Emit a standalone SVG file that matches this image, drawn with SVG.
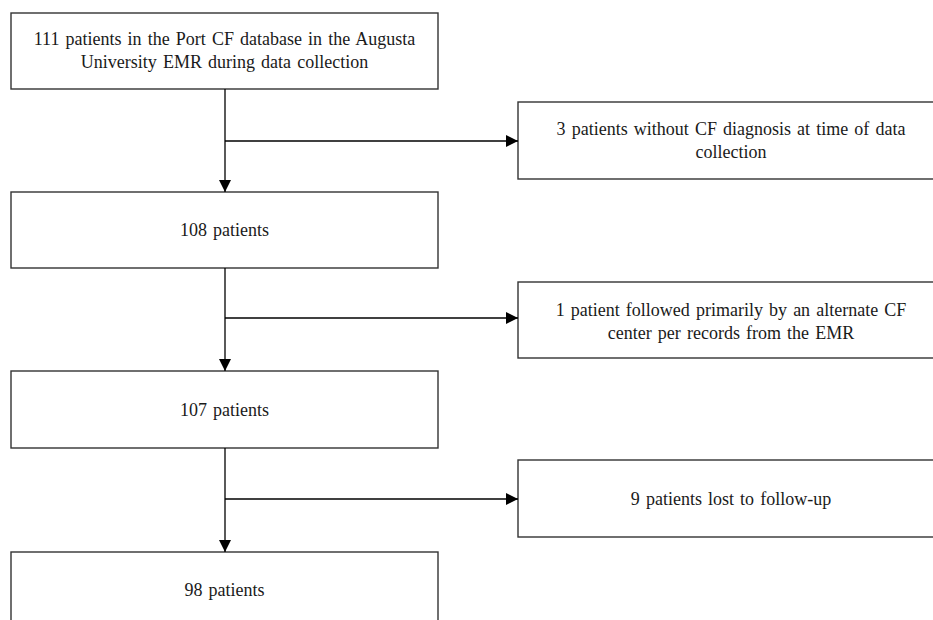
<svg xmlns="http://www.w3.org/2000/svg" width="933" height="620" viewBox="0 0 933 620">
<defs>
<style>
.box{fill:#fff;stroke:#333;stroke-width:1.4}
.t{font-family:"Liberation Serif","Times New Roman",serif;font-size:18px;word-spacing:1.6px;fill:#1a1a1a;text-anchor:middle}
.c{stroke:#000;stroke-width:1.3;fill:none}
</style>
<marker id="ah" viewBox="0 0 12 12" refX="12" refY="6" markerWidth="12" markerHeight="12" markerUnits="userSpaceOnUse" orient="auto">
<path d="M0,0 L12,6 L0,12 Z" fill="#000"/>
</marker>
</defs>
<rect width="933" height="620" fill="#fff"/>
<g id="n111">
<rect class="box" x="11" y="13" width="427" height="76"/>
<text class="t" x="224.5" y="45">111 patients in the Port CF database in the Augusta</text>
<text class="t" x="224.5" y="68">University EMR during data collection</text>
</g>
<g id="n108">
<rect class="box" x="11" y="192" width="427" height="76"/>
<text class="t" x="224.5" y="236">108 patients</text>
</g>
<g id="n107">
<rect class="box" x="11" y="371" width="427" height="77"/>
<text class="t" x="224.5" y="416">107 patients</text>
</g>
<g id="n98">
<rect class="box" x="11" y="552" width="427" height="77"/>
<text class="t" x="224.5" y="596">98 patients</text>
</g>
<g id="ex3">
<rect class="box" x="518" y="102" width="427" height="77"/>
<text class="t" x="731" y="135">3 patients without CF diagnosis at time of data</text>
<text class="t" x="731" y="158">collection</text>
</g>
<g id="ex1">
<rect class="box" x="518" y="282" width="427" height="76"/>
<text class="t" x="731" y="316">1 patient followed primarily by an alternate CF</text>
<text class="t" x="731" y="339">center per records from the EMR</text>
</g>
<g id="ex9">
<rect class="box" x="518" y="460" width="427" height="77"/>
<text class="t" x="731" y="505">9 patients lost to follow-up</text>
</g>
<g id="connectors">
<line class="c" x1="225" y1="89" x2="225" y2="192" marker-end="url(#ah)"/>
<line class="c" x1="225" y1="141" x2="518" y2="141" marker-end="url(#ah)"/>
<line class="c" x1="225" y1="268" x2="225" y2="371" marker-end="url(#ah)"/>
<line class="c" x1="225" y1="318" x2="518" y2="318" marker-end="url(#ah)"/>
<line class="c" x1="225" y1="448" x2="225" y2="552" marker-end="url(#ah)"/>
<line class="c" x1="225" y1="499" x2="518" y2="499" marker-end="url(#ah)"/>
</g>
</svg>
